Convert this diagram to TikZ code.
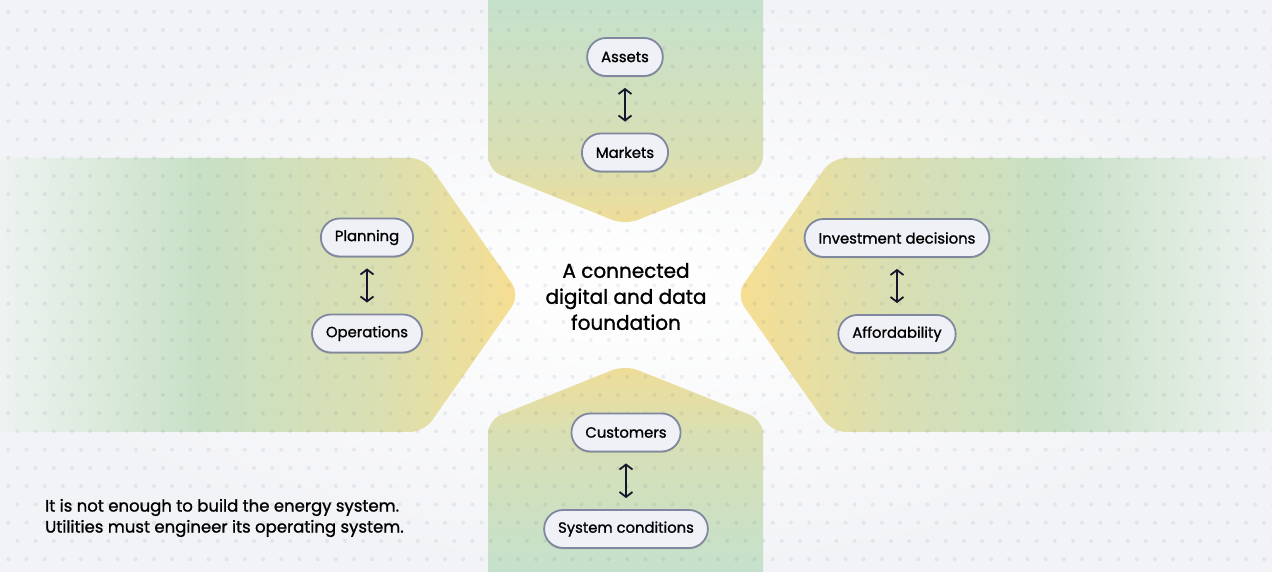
\documentclass[tikz,border=0pt]{standalone}
\usepackage{fontspec}
\setmainfont{Poppins}[FakeBold=1.2]
\usetikzlibrary{arrows.meta,shadows}

\definecolor{bgc}{HTML}{F2F3F6}
\definecolor{armfade}{HTML}{EEF3F1}
\definecolor{armgreen}{HTML}{C8E0C6}
\definecolor{armmint}{HTML}{C5E1CC}
\definecolor{armyellow}{HTML}{F7DE91}
\definecolor{armtip}{HTML}{EFDD97}
\colorlet{armmix}{armgreen!60!armyellow}
\colorlet{armmixv}{armmint!55!armtip}
\definecolor{itemfill}{HTML}{F0F1F6}
\definecolor{itemline}{HTML}{7F889F}
\definecolor{arrowc}{HTML}{15172E}
\definecolor{dotcol}{HTML}{465070}

\pgfdeclarehorizontalshading{leftarm}{100bp}{color(0bp)=(armfade); color(26.9bp)=(armfade); color(45.4bp)=(armgreen); color(62.2bp)=(armmix); color(75bp)=(armyellow); color(100bp)=(armyellow)}
\pgfdeclarehorizontalshading{rightarm}{100bp}{color(0bp)=(armyellow); color(25bp)=(armyellow); color(37.8bp)=(armmix); color(54bp)=(armgreen); color(73.2bp)=(armfade); color(100bp)=(armfade)}
\pgfdeclareverticalshading{toparm}{100bp}{color(0bp)=(armtip); color(25bp)=(armtip); color(39.4bp)=(armmixv); color(69.5bp)=(armmint); color(100bp)=(armmint)}
\pgfdeclareverticalshading{bottomarm}{100bp}{color(0bp)=(armmint); color(31bp)=(armmint); color(59.6bp)=(armmixv); color(75bp)=(armtip); color(100bp)=(armtip)}

\begin{document}
\begin{tikzpicture}[x=1pt,y=1pt]
%define
\tikzstyle{item} = [rectangle, rounded corners=19pt, minimum height=38pt, inner xsep=14pt, text centered, draw=itemline, line width=1.8pt, fill=itemfill, font=\fontsize{14.8}{17}\selectfont, drop shadow={shadow xshift=0pt, shadow yshift=-1.5pt, opacity=0.12, fill=black}]
\tikzstyle{arrow} = [{Straight Barb[length=5pt,width=13pt]}-{Straight Barb[length=5pt,width=13pt]}, line width=1.8pt, draw=arrowc, shorten >=11pt, shorten <=11pt]
\tikzstyle{arm} = [rounded corners=14pt]
\tikzstyle{dotc} = [fill=dotcol, opacity=0.09]

\useasboundingbox (0,0) rectangle (1272,572);
\clip (0,0) rectangle (1272,572);
\fill[bgc] (0,0) rectangle (1272,572);
\shade[inner color=white, outer color=bgc] (0,0) rectangle (1272,572);

% arms
\shade[arm, shading=toparm] (488,600) -- (488,402) -- (625,347) -- (763,402) -- (763,600) -- cycle;
\shade[arm, shading=bottomarm] (488,-28) -- (488,152) -- (625,207) -- (763,152) -- (763,-28) -- cycle;
\shade[arm, shading=leftarm] (-20,414) -- (424,414) -- (520,277) -- (424,140) -- (-20,140) -- cycle;
\shade[arm, shading=rightarm] (1292,414) -- (832,414) -- (736,277) -- (832,140) -- (1292,140) -- cycle;

% dots
\foreach \j in {0,...,31} {
  \pgfmathsetmacro{\off}{8.3+9.1*mod(\j,2)}
  \fill[dotc] \foreach \k in {0,...,70} {(\off+\k*18.2, 560.3-\j*18.25) circle (2)};
}

\node[item](item_Assets) at (625,515){Assets};
\node[item, below of = item_Assets, node distance=95.5pt](item_Markets){Markets};
\node[item](item_Planning) at (367,334.5){Planning};
\node[item, below of = item_Planning, node distance=96pt](item_Operations){Operations};
\node[item](item_Investment) at (897,334){Investment decisions};
\node[item, below of = item_Investment, node distance=96pt](item_Affordability){Affordability};
\node[item](item_Customers) at (626,139.5){Customers};
\node[item, below of = item_Customers, node distance=96.5pt](item_System){System conditions};

\draw[arrow](item_Assets) -- (item_Markets);
\draw[arrow](item_Planning) -- (item_Operations);
\draw[arrow](item_Investment) -- (item_Affordability);
\draw[arrow](item_Customers) -- (item_System);

\node[align=center, inner sep=0pt, font=\fontsize{20}{26}\selectfont](title) at (626,275.5){A connected\\digital and data\\foundation};
\node[align=left, anchor=west, inner sep=0pt, font=\fontsize{16.5}{21}\selectfont](note) at (45,54){It is not enough to build the energy system.\\Utilities must engineer its operating system.};

\end{tikzpicture}
\end{document}
